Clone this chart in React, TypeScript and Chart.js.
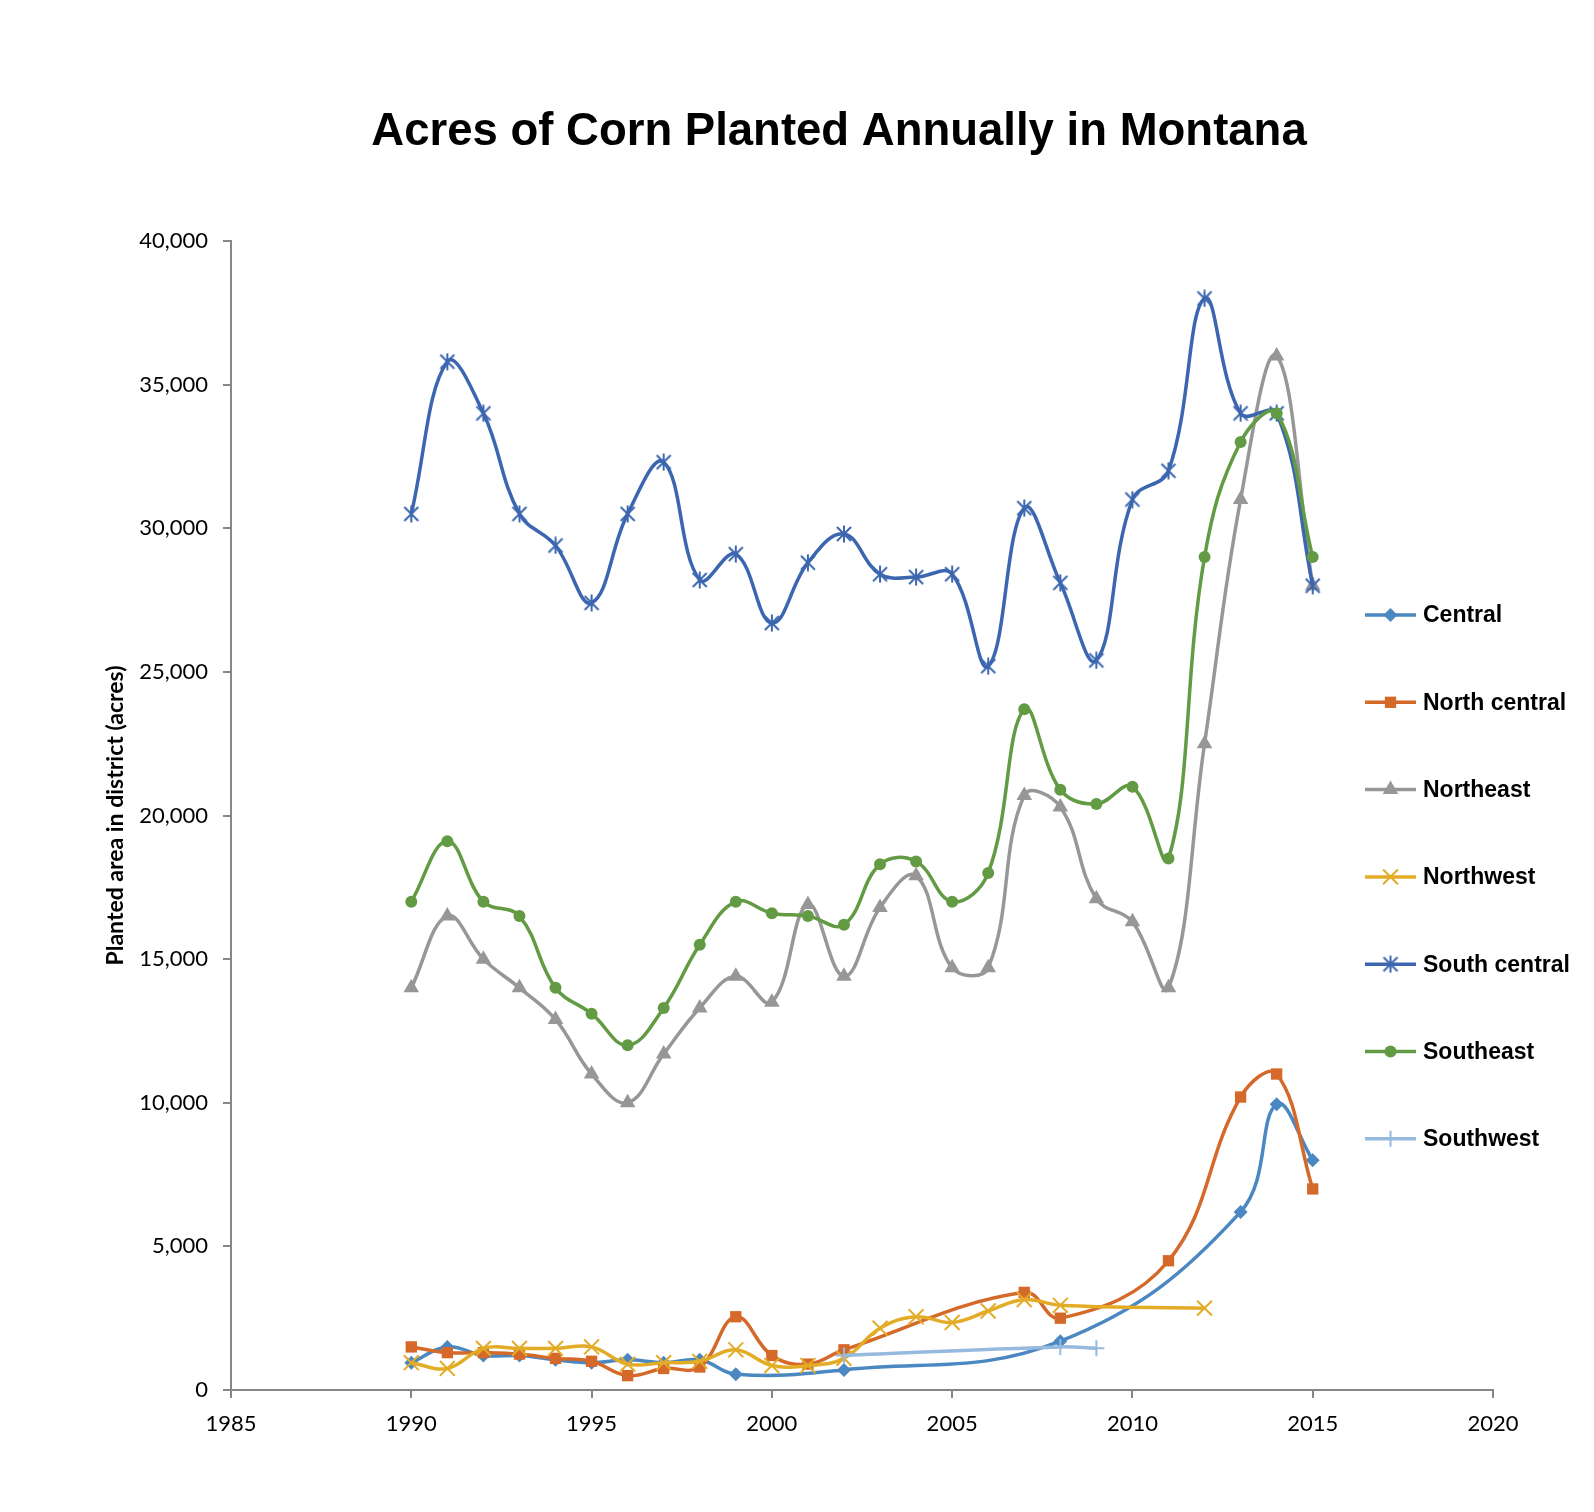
import React, { useEffect, useRef } from 'react';
import { Chart, registerables } from 'chart.js';
import { drawPoint } from 'chart.js/helpers';

Chart.register(...registerables);

// ---------- Data ----------
const CHART_TITLE = 'Acres of Corn Planted Annually in Montana';
const Y_TITLE = 'Planted area in district (acres)';
const X_MIN = 1985;
const X_MAX = 2020;
const X_STEP = 5;
const Y_MIN = 0;
const Y_MAX = 40000;
const Y_STEP = 5000;

const SERIES_NAMES = ['Central', 'North central', 'Northeast', 'Northwest', 'South central', 'Southeast', 'Southwest'];

const allYears = [1990, 1991, 1992, 1993, 1994, 1995, 1996, 1997, 1998, 1999, 2000, 2001, 2002, 2003, 2004, 2005, 2006, 2007, 2008, 2009, 2010, 2011, 2012, 2013, 2014, 2015];

const centralYears = [1990, 1991, 1992, 1993, 1994, 1995, 1996, 1997, 1998, 1999, 2002, 2008, 2013, 2014, 2015];
const centralValues = [950, 1500, 1200, 1200, 1050, 950, 1050, 950, 1050, 550, 700, 1700, 6200, 9950, 8000];

const northCentralYears = [1990, 1991, 1992, 1993, 1994, 1995, 1996, 1997, 1998, 1999, 2000, 2001, 2002, 2007, 2008, 2011, 2013, 2014, 2015];
const northCentralValues = [1500, 1300, 1300, 1250, 1100, 1000, 500, 750, 800, 2550, 1200, 900, 1400, 3400, 2500, 4500, 10200, 11000, 7000];

const northeastValues = [14000, 16500, 15000, 14000, 12900, 11000, 10000, 11700, 13300, 14400, 13500, 16900, 14400, 16800, 17900, 14700, 14700, 20700, 20300, 17100, 16300, 14000, 22500, 31000, 36000, 28000];

const northwestYears = [1990, 1991, 1992, 1993, 1994, 1995, 1996, 1997, 1998, 1999, 2000, 2001, 2002, 2003, 2004, 2005, 2006, 2007, 2008, 2012];
const northwestValues = [950, 750, 1450, 1450, 1450, 1500, 900, 950, 1000, 1400, 850, 850, 1100, 2150, 2550, 2350, 2750, 3150, 2950, 2850];

const southCentralValues = [30500, 35800, 34000, 30500, 29400, 27400, 30500, 32300, 28200, 29100, 26700, 28800, 29800, 28400, 28300, 28400, 25200, 30700, 28100, 25400, 31000, 32000, 38000, 34000, 34000, 28000];

const southeastValues = [17000, 19100, 17000, 16500, 14000, 13100, 12000, 13300, 15500, 17000, 16600, 16500, 16200, 18300, 18400, 17000, 18000, 23700, 20900, 20400, 21000, 18500, 29000, 33000, 34000, 29000];

const southwestYears = [2002, 2008, 2009];
const southwestValues = [1200, 1500, 1450];

// ---------- Styles ----------
const COLORS = ['#4B87C1', '#D4692A', '#979797', '#E3AC27', '#3C66AF', '#629B43', '#96B9E0'];
const LINE_WIDTH = 3.5;

const CANVAS_W = 1578;
const CANVAS_H = 1496;

const LEGEND_LINE_X0 = 1357;
const LEGEND_LINE_X1 = 1408;
const LEGEND_TEXT_X = 1415;
const LEGEND_TOP = 607;
const LEGEND_STEP = 87.3;

function pts(xs: number[], ys: number[]) {
  return xs.map((x, i) => ({ x, y: ys[i] }));
}

function makeStarMarker(color: string) {
  const size = 18;
  const c = document.createElement('canvas');
  c.width = size;
  c.height = size;
  const g = c.getContext('2d')!;
  g.strokeStyle = color;
  g.lineWidth = 2;
  const m = size / 2;
  const d = 7;
  g.beginPath();
  g.moveTo(m - d, m - d);
  g.lineTo(m + d, m + d);
  g.moveTo(m + d, m - d);
  g.lineTo(m - d, m + d);
  g.moveTo(m, m - 8.5);
  g.lineTo(m, m + 8.5);
  g.stroke();
  return c;
}

const legendPlugin = {
  id: 'customLegend',
  afterDraw(chart: any) {
    const ctx = chart.ctx as CanvasRenderingContext2D;
    ctx.save();
    chart.data.datasets.forEach((ds: any, i: number) => {
      const y = LEGEND_TOP + i * LEGEND_STEP;
      ctx.strokeStyle = ds.borderColor;
      ctx.lineWidth = LINE_WIDTH;
      ctx.beginPath();
      ctx.moveTo(LEGEND_LINE_X0, y);
      ctx.lineTo(LEGEND_LINE_X1, y);
      ctx.stroke();
      ctx.fillStyle = ds.pointBackgroundColor;
      ctx.strokeStyle = ds.pointBorderColor;
      ctx.lineWidth = ds.pointBorderWidth;
      drawPoint(ctx, { pointStyle: ds.pointStyle, radius: ds.pointRadius, borderWidth: ds.pointBorderWidth, rotation: 0 } as any, (LEGEND_LINE_X0 + LEGEND_LINE_X1) / 2, y);
      ctx.fillStyle = '#000';
      ctx.font = 'bold 23px "Liberation Sans", Arial, sans-serif';
      ctx.textBaseline = 'middle';
      ctx.textAlign = 'left';
      ctx.fillText(SERIES_NAMES[i], LEGEND_TEXT_X, y + 1);
    });
    ctx.restore();
  },
};

export default function App() {
  const ref = useRef<HTMLCanvasElement | null>(null);

  useEffect(() => {
    if (!ref.current) return;
    const star = makeStarMarker(COLORS[4]);

    const seriesData = [
      pts(centralYears, centralValues),
      pts(northCentralYears, northCentralValues),
      pts(allYears, northeastValues),
      pts(northwestYears, northwestValues),
      pts(allYears, southCentralValues),
      pts(allYears, southeastValues),
      pts(southwestYears, southwestValues),
    ];
    const pointStyles: any[] = ['rectRot', 'rect', 'triangle', 'crossRot', star, 'circle', 'cross'];
    const pointRadii = [7, 8, 9, 10.5, 9, 6, 8];
    const pointBorders = [0, 0, 0, 2, 0, 0, 2];

    const datasets = SERIES_NAMES.map((name, i) => ({
      label: name,
      data: seriesData[i],
      showLine: true,
      borderColor: COLORS[i],
      backgroundColor: COLORS[i],
      pointBackgroundColor: COLORS[i],
      pointBorderColor: COLORS[i],
      pointBorderWidth: pointBorders[i],
      pointStyle: pointStyles[i],
      pointRadius: pointRadii[i],
      borderWidth: LINE_WIDTH,
      tension: 0.4,
      order: SERIES_NAMES.length - i,
    }));

    const chart = new Chart(ref.current, {
      type: 'scatter',
      data: { datasets },
      options: {
        animation: false,
        responsive: false,
        events: [],
        layout: { padding: { left: 84, top: 0, right: 0, bottom: 0 } },
        plugins: {
          legend: { display: false },
          tooltip: { enabled: false },
          title: {
            display: true,
            text: CHART_TITLE,
            color: '#000',
            font: { family: '"Liberation Sans", Arial, sans-serif', weight: 'bold', size: 45.5 },
            padding: { top: 97, bottom: 81.4 },
          },
        },
        scales: {
          x: {
            type: 'linear',
            min: X_MIN,
            max: X_MAX,
            border: { display: true, color: '#868686', width: 2 },
            grid: { display: true, drawOnChartArea: false, drawTicks: true, tickLength: 8, color: '#868686', lineWidth: 2 },
            ticks: {
              stepSize: X_STEP,
              color: '#000',
              padding: 13,
              maxRotation: 0,
              font: { family: 'Lato, "Open Sans", sans-serif', size: 22 },
              callback: (v: any) => String(v),
            },
            afterFit: (s: any) => {
              s.height = 114;
              s.paddingRight = 93;
            },
          },
          y: {
            type: 'linear',
            min: Y_MIN,
            max: Y_MAX,
            border: { display: true, color: '#868686', width: 2 },
            grid: { display: true, drawOnChartArea: false, drawTicks: true, tickLength: 8, color: '#868686', lineWidth: 2 },
            ticks: {
              stepSize: Y_STEP,
              color: '#000',
              padding: 15,
              font: { family: 'Lato, "Open Sans", sans-serif', size: 22 },
              callback: (v: any) => Number(v).toLocaleString('en-US'),
            },
            title: {
              display: true,
              text: Y_TITLE,
              color: '#000',
              font: { family: 'Lato, "Open Sans", sans-serif', weight: 'bold', size: 23 },
              padding: { top: 10, bottom: 0 },
            },
            afterFit: (s: any) => {
              s.width = 139;
            },
          },
        },
      },
      plugins: [legendPlugin],
    } as any);

    return () => chart.destroy();
  }, []);

  return (
    <div style={{ width: CANVAS_W, height: CANVAS_H }}>
      <canvas ref={ref} width={CANVAS_W} height={CANVAS_H} style={{ width: CANVAS_W, height: CANVAS_H, display: 'block' }} />
    </div>
  );
}
